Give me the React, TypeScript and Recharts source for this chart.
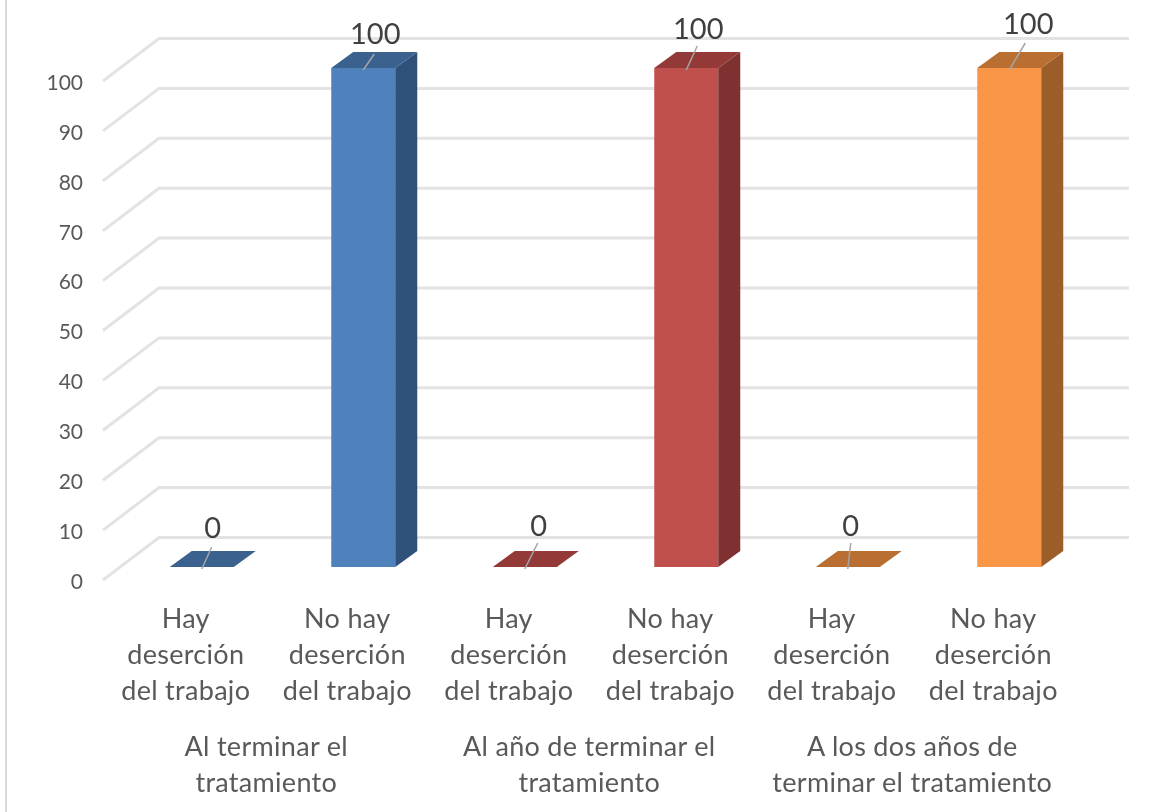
import { Bar, BarChart, CartesianGrid, LabelList, XAxis, YAxis } from 'recharts'

const categories = [
  'Hay deserción del trabajo',
  'No hay deserción del trabajo',
  'Hay deserción del trabajo ',
  'No hay deserción del trabajo ',
  'Hay deserción del trabajo  ',
  'No hay deserción del trabajo  ',
]
const terminar = [0, 100, null, null, null, null]
const alAno = [null, null, 0, 100, null, null]
const dosAnos = [null, null, null, null, 0, 100]
const yTicks = [0, 10, 20, 30, 40, 50, 60, 70, 80, 90, 100]

const categoryLines = [
  ['Hay', 'deserción', 'del trabajo'],
  ['No hay', 'deserción', 'del trabajo'],
]
const periodLines = [
  ['Al terminar el', 'tratamiento'],
  ['Al año de terminar el', 'tratamiento'],
  ['A los dos años de', 'terminar el tratamiento'],
]

const data = categories.map((category, i) => ({
  category,
  terminar: terminar[i],
  alAno: alAno[i],
  dosAnos: dosAnos[i],
}))

const FONT = 'Lato, sans-serif'
const TEXT = '#595959'

// leader line end and label centre, relative to the top centre of each bar
const labelPos: Record<number, { lx: number; ly: number; tx: number; ty: number }> = {
  0: { lx: 10, ly: -20, tx: 11, ty: -36 },
  1: { lx: 11, ly: -14, tx: 12, ty: -31 },
  2: { lx: 13, ly: -24, tx: 14, ty: -38 },
  3: { lx: 11, ly: -22, tx: 12, ty: -36 },
  4: { lx: 3, ly: -24, tx: 3, ty: -38 },
  5: { lx: 16, ly: -25, tx: 19, ty: -41 },
}

function Bar3D(props: any) {
  const { x, y, width, height, front, top, side, payload, field } = props
  if (payload[field] === null) return null
  const dx = 22
  const dy = 16
  return (
    <g>
      {height > 0 && <rect x={x} y={y} width={width} height={height} fill={front} />}
      {height > 0 && (
        <path
          d={`M${x + width},${y} l${dx},${-dy} v${height} l${-dx},${dy} Z`}
          fill={side}
        />
      )}
      <path
        d={`M${x},${y} l${dx},${-dy} h${width} l${-dx},${dy} Z`}
        fill={top}
      />
    </g>
  )
}

function DataLabel(props: any) {
  const { x, y, width, value, index } = props
  if (value === null || value === undefined) return null
  const cx = x + width / 2
  const p = labelPos[index]
  return (
    <g>
      <line
        x1={cx}
        y1={y + 2}
        x2={cx + p.lx}
        y2={y + p.ly}
        stroke='#a6a6a6'
        strokeWidth={1.5}
      />
      <text
        x={cx + p.tx}
        y={y + p.ty}
        textAnchor='middle'
        dominantBaseline='middle'
        fontFamily={FONT}
        fontSize={29}
        fill='#404040'
      >
        {value}
      </text>
    </g>
  )
}

function GridLine(props: any) {
  const { x2, y1 } = props
  return (
    <path
      d={`M103,${y1 + 13} L159,${y1 - 29.5} L${x2 + 39},${y1 - 29.5}`}
      fill='none'
      stroke='#e3e3e3'
      strokeWidth={3}
    />
  )
}

function YTick(props: any) {
  const { y, payload } = props
  return (
    <text
      x={83}
      y={y + 16.5}
      textAnchor='end'
      dominantBaseline='middle'
      fontFamily={FONT}
      fontSize={21}
      fill={TEXT}
    >
      {payload.value}
    </text>
  )
}

function XTick(props: any) {
  const { x, y, index } = props
  const lines = categoryLines[index % 2]
  const cx = x - 16
  const isGroupEnd = index % 2 === 1
  return (
    <g fontFamily={FONT} fill={TEXT} textAnchor='middle' letterSpacing={0.3}>
      {lines.map((line, i) => (
        <text key={i} x={cx} y={53 + y + i * 36} fontSize={27}>
          {line}
        </text>
      ))}
      {isGroupEnd &&
        periodLines[(index - 1) / 2].map((line, i) => (
          <text key={line} x={cx - 81} y={y + 181 + i * 36} fontSize={27}>
            {line}
          </text>
        ))}
    </g>
  )
}

export default function App() {
  return (
    <div style={{ position: 'absolute', left: 0, top: 0, width: 1171, height: 812, background: '#fff', overflow: 'hidden', filter: 'blur(0.5px)' }}>
      <div style={{ position: 'absolute', left: 5, top: 0, width: 2, height: 812, background: '#d9d9d9' }} />
      <BarChart
        width={1171}
        height={812}
        data={data}
        barCategoryGap={48.75}
        margin={{ top: 68, right: 81, bottom: 0, left: 0 }}
      >
        <CartesianGrid vertical={false} horizontal={(p: any) => <GridLine key={p.key} {...p} />} />
        <XAxis
          dataKey='category'
          height={245}
          interval={0}
          axisLine={false}
          tickLine={false}
          tick={<XTick />}
        />
        <YAxis
          width={121}
          domain={[0, 100]}
          ticks={yTicks}
          axisLine={false}
          tickLine={false}
          tick={<YTick />}
        />
        <Bar
          dataKey='terminar'
          stackId='a'
          isAnimationActive={false}
          shape={(p: any) => <Bar3D {...p} field='terminar' front='#4f81bd' top='#3b618f' side='#2f5078' />}
        >
          <LabelList dataKey='terminar' content={<DataLabel />} />
        </Bar>
        <Bar
          dataKey='alAno'
          stackId='a'
          isAnimationActive={false}
          shape={(p: any) => <Bar3D {...p} field='alAno' front='#c0504d' top='#933a38' side='#7e3130' />}
        >
          <LabelList dataKey='alAno' content={<DataLabel />} />
        </Bar>
        <Bar
          dataKey='dosAnos'
          stackId='a'
          isAnimationActive={false}
          shape={(p: any) => <Bar3D {...p} field='dosAnos' front='#f99746' top='#b96f31' side='#9c5e29' />}
        >
          <LabelList dataKey='dosAnos' content={<DataLabel />} />
        </Bar>
      </BarChart>
    </div>
  )
}
